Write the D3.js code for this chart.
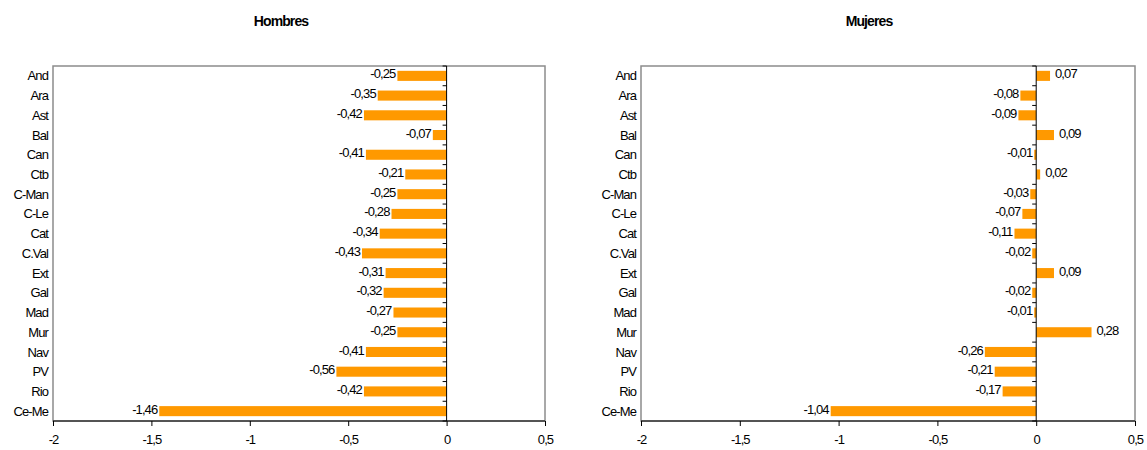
<!DOCTYPE html>
<html><head><meta charset="utf-8">
<script src="https://cdn.jsdelivr.net/npm/d3@7/dist/d3.min.js"></script>
<style>
body{margin:0;background:#fff;}
text{font-family:"Liberation Sans",Arial,sans-serif;font-size:13px;letter-spacing:-0.9px;fill:#000;}
</style></head>
<body><svg id="c" width="1147" height="450"></svg>
<script>
const categories = ["And","Ara","Ast","Bal","Can","Ctb","C-Man","C-Le","Cat","C.Val","Ext","Gal","Mad","Mur","Nav","PV","Rio","Ce-Me"];
const hombres = [-0.25,-0.35,-0.42,-0.07,-0.41,-0.21,-0.25,-0.28,-0.34,-0.43,-0.31,-0.32,-0.27,-0.25,-0.41,-0.56,-0.42,-1.46];
const mujeres = [0.07,-0.08,-0.09,0.09,-0.01,0.02,-0.03,-0.07,-0.11,-0.02,0.09,-0.02,-0.01,0.28,-0.26,-0.21,-0.17,-1.04];
const xTicks = [-2,-1.5,-1,-0.5,0,0.5];
const titles = ["Hombres","Mujeres"];

const svg = d3.select("#c");
const fmt = v => String(Math.round(v*100)/100).replace(".", ",");

function panel(x0, x1, titleX, title, values){
  const top = 66, bottom = 421;
  const x = d3.scaleLinear().domain([-2,0.5]).range([x0,x1]);
  const y = d3.scaleBand().domain(categories).range([top,bottom]).paddingInner(0.49).paddingOuter(0.245);
  const g = svg.append("g");
  g.append("text").attr("x",titleX).attr("y",26).attr("text-anchor","middle")
    .style("font-weight","bold").style("font-size","14px").text(title);
  g.append("rect").attr("x",x0).attr("y",top).attr("width",x1-x0).attr("height",bottom-top)
    .attr("fill","none").attr("stroke","#8c8c8c").attr("stroke-width",1.5);
  // bars
  g.selectAll("rect.bar").data(values).join("rect").attr("class","bar")
    .attr("x",d=>x(Math.min(0,d))).attr("width",d=>Math.abs(x(d)-x(0)))
    .attr("y",(d,i)=>y(categories[i])).attr("height",y.bandwidth())
    .attr("fill","#FF9900");
  // zero axis
  g.append("line").attr("x1",x(0)).attr("x2",x(0)).attr("y1",top).attr("y2",bottom).attr("stroke","#000");
  const step = (bottom-top)/categories.length;
  g.selectAll("line.yt").data(d3.range(categories.length+1)).join("line").attr("class","yt")
    .attr("x1",x(0)-4).attr("x2",x(0)).attr("y1",i=>top+i*step).attr("y2",i=>top+i*step).attr("stroke","#000");
  // bottom axis
  const ax = g.append("g").attr("transform",`translate(0,${bottom})`)
    .call(d3.axisBottom(x).tickValues(xTicks).tickSize(5).tickPadding(9).tickFormat(fmt));
  ax.select(".domain").attr("stroke","#000").attr("d",`M${x0},0H${x1}`);
  ax.selectAll("text").style("font-size","13px").style("font-family","'Liberation Sans',Arial,sans-serif");
  // category labels
  g.selectAll("text.cat").data(categories).join("text").attr("class","cat")
    .attr("x",x0-5).attr("y",d=>y(d)+y.bandwidth()/2).attr("dy","0.35em")
    .attr("text-anchor","end").text(d=>d);
  // value labels
  g.selectAll("text.val").data(values).join("text").attr("class","val")
    .attr("x",d=> d<0 ? x(d)-2 : x(d)+5)
    .attr("y",(d,i)=>y(categories[i])+y.bandwidth()/2-2).attr("dy","0.35em")
    .attr("text-anchor",d=> d<0 ? "end":"start").text(fmt);
}
panel(53,545,281,titles[0],hombres);
panel(641,1135,869,titles[1],mujeres);
</script></body></html>
